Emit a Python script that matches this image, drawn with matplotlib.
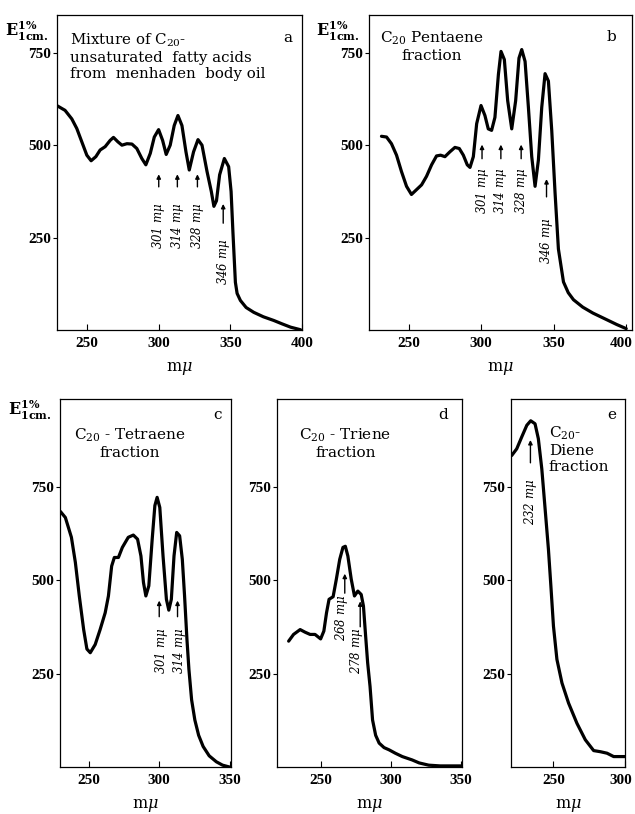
import matplotlib.pyplot as plt
import matplotlib.transforms as mtransforms

plt.rcParams['font.family'] = ['DejaVu Serif']
plt.rcParams['mathtext.fontset'] = 'dejavuserif'

# ---- data (wavelength m-mu, E 1% 1cm) ----
wl_a = [228.8, 234.6, 239.3, 242.8, 246.3, 249.8, 252.8, 256.1, 259.1, 262.6, 266.1, 268.4,
        271.5, 274.3, 277.8, 281.3, 284.7, 288.2, 291, 294.1, 296.9, 299.9, 302.7, 305.2,
        308, 310.8, 313.4, 316.2, 319, 321.3, 324.3, 327.4, 330.2, 333.7, 336.7, 338.5,
        340.3, 342.5, 345.8, 348.8, 350.5, 351.8, 353.5, 354.7, 357, 361, 366.3, 373,
        380.3, 386, 392, 399]
e_a = [607, 594, 571, 545, 509, 473, 458, 469, 487, 496, 513, 521,
       509, 500, 504, 503, 491, 464, 447, 478, 522, 542, 513, 475,
       500, 553, 580, 553, 482, 433, 482, 515, 500, 429, 375, 335,
       350, 420, 464, 442, 375, 264, 130, 100, 81, 62, 49, 37,
       27, 18, 9, 2]

wl_b = [231.1, 234.6, 238, 241.5, 244.9, 248.4, 251.8, 255.3, 258.8, 262.2, 265.7, 269.1,
        271.9, 274.9, 278.3, 281.8, 284.8, 287.6, 290.3, 292.2, 294.5, 296.8, 299.8, 302.5,
        304.8, 307.1, 309.4, 311.8, 313.6, 315.9, 318.2, 321, 323.7, 326, 327.9, 330.2,
        332.5, 334.8, 337.1, 339.4, 341.7, 344, 346.3, 348.6, 350.9, 353.2, 356.7, 360,
        363.6, 370, 377, 385, 393.5, 400]
e_b = [524, 522, 504, 473, 429, 389, 367, 380, 393, 416, 447, 471,
       473, 469, 482, 494, 491, 473, 447, 440, 469, 558, 607, 580,
       544, 540, 575, 691, 753, 731, 620, 544, 620, 735, 758, 726,
       602, 469, 389, 460, 602, 693, 673, 540, 371, 220, 131, 102,
       83, 63, 47, 32, 16, 5]

wl_c = [229.8, 233.3, 237.6, 240.4, 243.2, 246.3, 248.6, 251, 254.5, 258, 261.6, 263.9,
        266.2, 268.1, 271, 273.8, 278, 281.6, 284.6, 287, 288.8, 290.5, 292.6, 295,
        296.9, 298.5, 300.4, 302.7, 305.1, 306.8, 308.6, 310.5, 312.4, 314.5, 316.4, 318,
        319.7, 321.1, 323, 325.3, 328, 331.2, 335.5, 340.6, 345, 350]
e_c = [684, 668, 615, 548, 458, 368, 316, 306, 328, 368, 413, 458,
       538, 561, 561, 588, 615, 621, 610, 565, 494, 458, 485, 610,
       700, 722, 695, 565, 449, 420, 449, 565, 628, 619, 556, 458,
       341, 261, 180, 126, 85, 55, 30, 14, 5, 0]

wl_d = [227, 230.5, 235.2, 238.7, 242.3, 245.8, 249.8, 252.1, 254, 255.8, 258.7, 261,
        263.4, 265.7, 267.4, 269.2, 271.6, 273.9, 276.3, 278.7, 280.3, 281.7, 283.3, 285,
        286.8, 289, 291.5, 295, 298.6, 303, 308, 315, 320, 326.8, 335, 350]
e_d = [337, 355, 368, 361, 355, 355, 343, 364, 413, 449, 456, 503,
       556, 588, 591, 565, 503, 458, 471, 462, 431, 359, 279, 216,
       126, 85, 64, 52, 46, 37, 28, 19, 11, 5, 3, 3]

wl_e = [221, 224.5, 228, 231.5, 234.2, 237.2, 239.5, 241.9, 244.2, 246.5, 248.2, 250,
        252.4, 255.9, 260.5, 266.3, 272.1, 277.9, 282.6, 287.2, 291.8, 298.8, 300]
e_e = [834, 852, 884, 915, 927, 919, 879, 798, 691, 583, 485, 377,
       288, 225, 171, 117, 73, 44, 41, 37, 28, 28, 28]

peaks_a = [301, 314, 328, 346]
peaks_b = [301, 314, 328, 346]
peaks_c = [301, 314]
peaks_d = [268, 278]
peaks_e = [232]

fig = plt.figure(figsize=(6.35, 8.14), dpi=100)


def panel(rect, wl, e, xlim, ylim, xticks):
    ax = fig.add_axes(rect)
    ax.plot(wl, e, color='black', lw=2.3, solid_capstyle='round', solid_joinstyle='round')
    ax.set_xlim(*xlim)
    ax.set_ylim(*ylim)
    ax.set_xticks(xticks)
    ax.set_yticks([250, 500, 750])
    ax.tick_params(axis='x', direction='in', length=4, width=0.8, labelsize=11, pad=5)
    ax.tick_params(axis='y', direction='out', length=3, width=0.8, labelsize=11, pad=1)
    for lab in ax.get_xticklabels() + ax.get_yticklabels():
        lab.set_fontweight('bold')
        lab.set_family('Liberation Serif')
    for s in ax.spines.values():
        s.set_linewidth(0.9)
    ax.set_xlabel(r'm$\mu$', fontsize=11.5, labelpad=7)
    return ax


def mark(ax, x, ybase, ytip, ytext, label, dx=0):
    ax.annotate('', xy=(x, ytip), xytext=(x, ybase),
                arrowprops=dict(arrowstyle='-|>', lw=1.0, color='black', mutation_scale=6))
    ax.text(x + dx, ytext, label, rotation=90, ha='center', va='center',
            fontsize=8.5, style='italic')


top_lim = (0, 850)
bot_lim = (0, 985)

ax_a = panel([0.0898, 0.594, 0.3858, 0.387], wl_a, e_a, (229, 400), top_lim, [250, 300, 350, 400])
ax_b = panel([0.5811, 0.594, 0.4142, 0.387], wl_b, e_b, (222.5, 404), top_lim, [250, 300, 350, 400])
ax_c = panel([0.0945, 0.0577, 0.2693, 0.452], wl_c, e_c, (229.5, 351), bot_lim, [250, 300, 350])
ax_d = panel([0.4362, 0.0577, 0.2913, 0.452], wl_d, e_d, (218.7, 350.5), bot_lim, [250, 300, 350])
ax_e = panel([0.8047, 0.0577, 0.1803, 0.452], wl_e, e_e, (220.5, 300), bot_lim, [250, 300])

# the last tick labels at the right page edge are nudged in a little
for ax in (ax_b, ax_e):
    lab = ax.get_xticklabels()[-1]
    lab.set_transform(lab.get_transform() +
                      mtransforms.ScaledTranslation(-5 / 100, 0, fig.dpi_scale_trans))

for p in peaks_a[:3]:
    mark(ax_a, p - 1, 380, 429, 283, f'{p} m$\\mu$')
mark(ax_a, peaks_a[3] - 1, 282, 349, 185, f'{peaks_a[3]} m$\\mu$')

for p in peaks_b[:3]:
    mark(ax_b, p - 0.5, 456, 509, 378, f'{p} m$\\mu$')
mark(ax_b, peaks_b[3] - 1, 353, 416, 243, f'{peaks_b[3]} m$\\mu$')

for p in peaks_c:
    mark(ax_c, p - 1, 395, 453, 310, f'{p} m$\\mu$', dx=1.5)

mark(ax_d, peaks_d[0] - 1, 458, 525, 400, f'{peaks_d[0]} m$\\mu$', dx=-2)
mark(ax_d, peaks_d[1], 368, 451, 310, f'{peaks_d[1]} m$\\mu$', dx=-3)

mark(ax_e, peaks_e[0] + 2, 807, 883, 711, f'{peaks_e[0]} m$\\mu$')

# panel titles and letters
fs = 11
ax_a.text(0.055, 0.95, 'Mixture of C$_{20}$-\nunsaturated  fatty acids\nfrom  menhaden  body oil',
          transform=ax_a.transAxes, ha='left', va='top', fontsize=10.8, linespacing=1.22)
ax_a.text(0.94, 0.95, 'a', transform=ax_a.transAxes, ha='center', va='top', fontsize=fs)

ax_b.text(0.24, 0.955, 'C$_{20}$ Pentaene\nfraction', transform=ax_b.transAxes,
          ha='center', va='top', fontsize=fs, linespacing=1.15, multialignment='center')
ax_b.text(0.92, 0.955, 'b', transform=ax_b.transAxes, ha='center', va='top', fontsize=fs)

ax_c.text(0.41, 0.925, 'C$_{20}$ - Tetraene\nfraction', transform=ax_c.transAxes,
          ha='center', va='top', fontsize=fs, linespacing=1.15, multialignment='center')
ax_c.text(0.92, 0.975, 'c', transform=ax_c.transAxes, ha='center', va='top', fontsize=fs)

ax_d.text(0.37, 0.925, 'C$_{20}$ - Triene\nfraction', transform=ax_d.transAxes,
          ha='center', va='top', fontsize=fs, linespacing=1.15, multialignment='center')
ax_d.text(0.9, 0.975, 'd', transform=ax_d.transAxes, ha='center', va='top', fontsize=fs)

ax_e.text(0.33, 0.93, 'C$_{20}$-\nDiene\nfraction', transform=ax_e.transAxes,
          ha='left', va='top', fontsize=fs, linespacing=1.15)
ax_e.text(0.88, 0.975, 'e', transform=ax_e.transAxes, ha='center', va='top', fontsize=fs)

# y axis unit labels
ylab = r'E$^{\mathbf{1\%}}_{\mathbf{1cm.}}$'
fig.text(0.008, 1 - 31 / 814, ylab, fontsize=11.5, fontweight='bold', va='center', ha='left')
fig.text(0.497, 1 - 31 / 814, ylab, fontsize=11.5, fontweight='bold', va='center', ha='left')
fig.text(0.012, 1 - 410 / 814, ylab, fontsize=11.5, fontweight='bold', va='center', ha='left')

fig.savefig('out.png', dpi=100)
